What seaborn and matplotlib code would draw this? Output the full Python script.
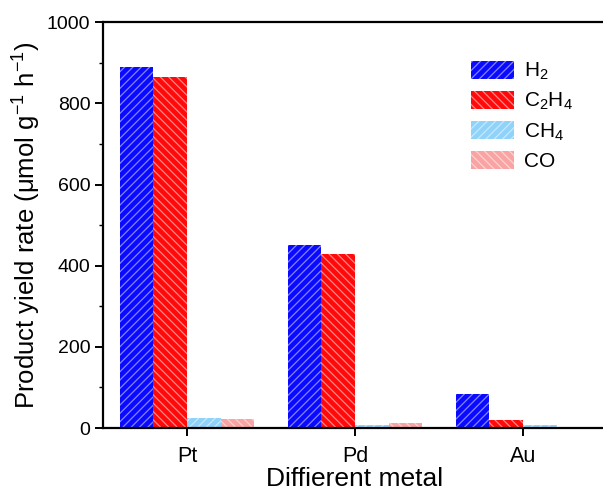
import matplotlib
matplotlib.use("Agg")
import matplotlib.pyplot as plt
import matplotlib.colors as mcolors
from matplotlib.ticker import MultipleLocator
import numpy as np
import pandas as pd
import seaborn as sns

# Product yield rates (μmol g^-1 h^-1) for each metal co-catalyst
metals = ["Pt", "Pd", "Au"]
products = ["H$_2$", "C$_2$H$_4$", "CH$_4$", "CO"]
h2 = [890, 451, 85]
c2h4 = [865, 428, 21]
ch4 = [25, 7, 7]
co = [23, 12, 2]

colors = ["#0a0aff", "#ff0a0a", "#8fd3fa", "#f9a3a3"]
hatches = ["////", "\\\\\\\\", "////", "\\\\\\\\"]

df = pd.DataFrame({
    "metal": np.repeat(metals, len(products)),
    "product": products * len(metals),
    "rate": [v for i in range(len(metals)) for v in (h2[i], c2h4[i], ch4[i], co[i])],
})

sns.set_theme(style="ticks")
plt.rcParams["font.family"] = ["Liberation Sans", "DejaVu Sans"]
plt.rcParams["mathtext.default"] = "regular"
plt.rcParams["hatch.linewidth"] = 0.9
plt.rcParams["text.color"] = "black"
plt.rcParams["axes.labelcolor"] = "black"

fig = plt.figure(figsize=(6.03, 4.92), dpi=100)
ax = fig.add_axes([0.1708, 0.130, 0.8358, 0.825])

sns.barplot(data=df, x="metal", y="rate", hue="product", order=metals,
            hue_order=products, palette=colors, width=0.8, saturation=1,
            errorbar=None, ax=ax)


def hatch_color(c):
    r, g, b = mcolors.to_rgb(c)
    return (r + (1 - r) * 0.5, g + (1 - g) * 0.5, b + (1 - b) * 0.5)


for container, c, h in zip(ax.containers, colors, hatches):
    for bar in container:
        bar.set_hatch(h)
        bar.set_edgecolor(hatch_color(c))
        bar.set_linewidth(0)

leg = ax.legend(loc="upper left", bbox_to_anchor=(0.714, 0.926), frameon=False,
                fontsize=15, handlelength=2.07, handleheight=0.96,
                labelspacing=0.42, handletextpad=0.45, borderaxespad=0)
for patch, c, h in zip(leg.get_patches(), colors, hatches):
    patch.set_hatch(h)
    patch.set_edgecolor(hatch_color(c))
    patch.set_linewidth(0)
for t in leg.get_texts():
    t.set_color("black")

ax.set_xlim(-0.5, 2.5)
ax.set_ylim(0, 1000)
ax.yaxis.set_major_locator(MultipleLocator(200))
ax.yaxis.set_minor_locator(MultipleLocator(100))

for side in ["left", "bottom", "top"]:
    ax.spines[side].set_linewidth(1.6)
    ax.spines[side].set_color("black")
ax.spines["right"].set_visible(False)

ax.tick_params(axis="both", which="major", direction="out", length=6,
               width=1.4, labelsize=14, colors="black")
ax.tick_params(axis="y", which="minor", direction="out", length=3, width=1.0,
               colors="black")
ax.tick_params(axis="x", pad=7, labelsize=15.5)
ax.tick_params(axis="y", pad=3)

ax.set_xlabel("Diffierent metal", fontsize=19, labelpad=0, color="black")
ax.set_ylabel("Product yield rate (μmol g$^{-1}$ h$^{-1}$)", fontsize=18.5,
              labelpad=3, color="black")

fig.savefig("out.png", dpi=100)
